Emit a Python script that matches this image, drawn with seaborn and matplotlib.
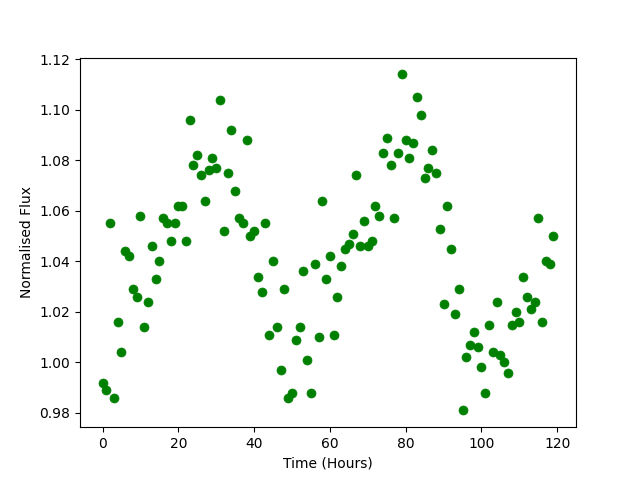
import matplotlib
matplotlib.use("Agg")
import matplotlib.pyplot as plt
import seaborn as sns
import pandas as pd

# light curve, one reading per hour
time_hours = list(range(120))
flux = [
    0.992, 0.989, 1.055, 0.986, 1.016, 1.004, 1.044, 1.042, 1.029, 1.026,
    1.058, 1.014, 1.024, 1.046, 1.033, 1.040, 1.057, 1.055, 1.048, 1.055,
    1.062, 1.062, 1.048, 1.096, 1.078, 1.082, 1.074, 1.064, 1.076, 1.081,
    1.077, 1.104, 1.052, 1.075, 1.092, 1.068, 1.057, 1.055, 1.088, 1.050,
    1.052, 1.034, 1.028, 1.055, 1.011, 1.040, 1.014, 0.997, 1.029, 0.986,
    0.988, 1.009, 1.014, 1.036, 1.001, 0.988, 1.039, 1.010, 1.064, 1.033,
    1.042, 1.011, 1.026, 1.038, 1.045, 1.047, 1.051, 1.074, 1.046, 1.056,
    1.046, 1.048, 1.062, 1.058, 1.083, 1.089, 1.078, 1.057, 1.083, 1.114,
    1.088, 1.081, 1.087, 1.105, 1.098, 1.073, 1.077, 1.084, 1.075, 1.053,
    1.023, 1.062, 1.045, 1.019, 1.029, 0.981, 1.002, 1.007, 1.012, 1.006,
    0.998, 0.988, 1.015, 1.004, 1.024, 1.003, 1.000, 0.996, 1.015, 1.020,
    1.016, 1.034, 1.026, 1.021, 1.024, 1.057, 1.016, 1.040, 1.039, 1.050,
]

df = pd.DataFrame({"time": time_hours, "flux": flux})

fig, ax = plt.subplots(figsize=(6.4, 4.8), dpi=100)
sns.scatterplot(data=df, x="time", y="flux", color="green", s=42,
                edgecolor="green", linewidth=0.5, ax=ax)
ax.set_xlabel("Time (Hours)")
ax.set_ylabel("Normalised Flux")

fig.savefig("out.png", dpi=100)
